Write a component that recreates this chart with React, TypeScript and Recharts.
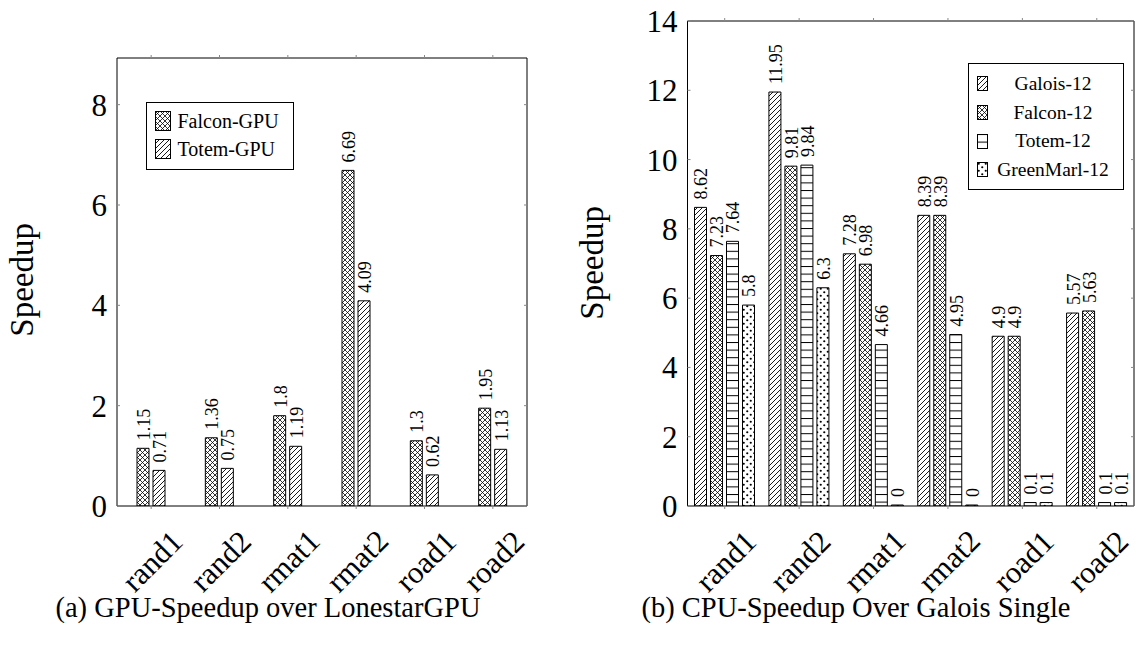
import React from 'react';
import { BarChart, Bar, XAxis, YAxis, LabelList } from 'recharts';

const categories = ['rand1', 'rand2', 'rmat1', 'rmat2', 'road1', 'road2'];

const gpuSeriesNames = ['Falcon-GPU', 'Totem-GPU'];
const falconGpu = [1.15, 1.36, 1.8, 6.69, 1.3, 1.95];
const totemGpu = [0.71, 0.75, 1.19, 4.09, 0.62, 1.13];

const cpuSeriesNames = ['Galois-12', 'Falcon-12', 'Totem-12', 'GreenMarl-12'];
const galois12 = [8.62, 11.95, 7.28, 8.39, 4.9, 5.57];
const falcon12 = [7.23, 9.81, 6.98, 8.39, 4.9, 5.63];
const totem12 = [7.64, 9.84, 4.66, 4.95, 0.1, 0.1];
const greenMarl12 = [5.8, 6.3, 0, 0, 0.1, 0.1];

const gpuTicks = [0, 2, 4, 6, 8];
const cpuTicks = [0, 2, 4, 6, 8, 10, 12, 14];

const yTitle = 'Speedup';
const captionA = '(a) GPU-Speedup over LonestarGPU';
const captionB = '(b) CPU-Speedup Over Galois Single';

const FONT = "'Liberation Serif', 'Times New Roman', serif";

const gpuData = categories.map((c, i) => ({ name: c, s0: falconGpu[i], s1: totemGpu[i] }));
const cpuData = categories.map((c, i) => ({
  name: c,
  s0: galois12[i],
  s1: falcon12[i],
  s2: totem12[i],
  s3: greenMarl12[i],
}));

const gpuPatterns = ['cross', 'ne'];
const cpuPatterns = ['ne', 'cross', 'h', 'dots'];

const Patterns = ({ p }: { p: string }) => (
  <defs>
    <pattern id={`${p}-ne`} patternUnits="userSpaceOnUse" width={5} height={5}>
      <rect width={5} height={5} fill="#fff" />
      <path d="M-1,1 L1,-1 M0,5 L5,0 M4,6 L6,4" stroke="#000" strokeWidth={0.9} />
    </pattern>
    <pattern id={`${p}-cross`} patternUnits="userSpaceOnUse" width={5} height={5}>
      <rect width={5} height={5} fill="#fff" />
      <path
        d="M-1,1 L1,-1 M0,5 L5,0 M4,6 L6,4 M-1,4 L1,6 M0,0 L5,5 M4,-1 L6,1"
        stroke="#000"
        strokeWidth={0.8}
      />
    </pattern>
    <pattern id={`${p}-h`} patternUnits="userSpaceOnUse" width={8} height={7.6}>
      <rect width={8} height={7.6} fill="#fff" />
      <line x1={0} y1={0.5} x2={8} y2={0.5} stroke="#000" strokeWidth={1} />
    </pattern>
    <pattern id={`${p}-dots`} patternUnits="userSpaceOnUse" width={7} height={7}>
      <rect width={7} height={7} fill="#fff" />
      <circle cx={1.75} cy={1.75} r={1.1} fill="#000" />
      <circle cx={5.25} cy={5.25} r={1.1} fill="#000" />
    </pattern>
  </defs>
);

const BarLabel = (props: any) => {
  const { x, y, width, height, value } = props;
  const top = Math.min(Number(y), Number(y) + Number(height || 0));
  const cx = Number(x) + Number(width) / 2 + 1;
  const ty = top - 8;
  return (
    <text
      x={cx}
      y={ty}
      transform={`rotate(-90 ${cx} ${ty})`}
      textAnchor="start"
      dominantBaseline="central"
      fontSize={18}
      fontFamily={FONT}
      fill="#000"
    >
      {value}
    </text>
  );
};

const XTick = (props: any) => {
  const { x, y, payload } = props;
  const tx = x + 1;
  const ty = y + 52;
  return (
    <text
      x={tx}
      y={ty}
      transform={`rotate(-45 ${tx} ${ty})`}
      textAnchor="middle"
      dominantBaseline="central"
      fontSize={31}
      fontFamily={FONT}
      fill="#000"
    >
      {payload.value}
    </text>
  );
};

const EmptyTick = () => <g />;

const yTickStyle = { fontSize: 31, fill: '#000', fontFamily: FONT };

const Legend = ({
  names,
  patterns,
  left,
  top,
  width,
  height,
  rowTop,
  rowStep,
  swW,
  swH,
  swX,
  textX,
  textCenter,
  fontSize,
}: any) => (
  <div
    style={{
      position: 'absolute',
      left,
      top,
      width,
      height,
      border: '1px solid #000',
      boxSizing: 'border-box',
      background: '#fff',
    }}
  >
    {names.map((n: string, i: number) => {
      const cy = rowTop + i * rowStep;
      return (
        <React.Fragment key={n}>
          <svg
            width={swW}
            height={swH}
            style={{ position: 'absolute', left: swX, top: cy - swH / 2 }}
          >
            <rect
              x={0.5}
              y={0.5}
              width={swW - 1}
              height={swH - 1}
              fill={`url(#lg-${patterns[i]})`}
              stroke="#000"
              strokeWidth={1}
            />
          </svg>
          <div
            style={{
              position: 'absolute',
              left: textCenter ? textX - 100 : textX,
              width: textCenter ? 200 : undefined,
              textAlign: textCenter ? 'center' : 'left',
              top: cy - fontSize * 0.6,
              lineHeight: `${fontSize * 1.2}px`,
              fontSize,
              fontFamily: FONT,
              whiteSpace: 'nowrap',
              color: '#000',
            }}
          >
            {n}
          </div>
        </React.Fragment>
      );
    })}
  </div>
);

const textAbs = (cx: number, cy: number, size: number, rotate = false): React.CSSProperties => ({
  position: 'absolute',
  left: cx - 300,
  top: cy - size * 0.6,
  width: 600,
  textAlign: 'center',
  fontSize: size,
  lineHeight: `${size * 1.2}px`,
  fontFamily: FONT,
  color: '#000',
  whiteSpace: 'nowrap',
  transform: rotate ? 'rotate(-90deg)' : undefined,
});

export default function App() {
  return (
    <div
      style={{
        position: 'absolute',
        left: 0,
        top: 0,
        width: 1135,
        height: 652,
        background: '#fff',
        overflow: 'hidden',
      }}
    >
      <svg width={0} height={0} style={{ position: 'absolute' }}>
        <Patterns p="lg" />
      </svg>

      <div style={{ position: 'absolute', left: 0, top: 0 }}>
        <BarChart
          width={560}
          height={652}
          data={gpuData}
          margin={{ top: 57, right: 32, bottom: 66, left: 57 }}
          barSize={12}
          barGap={4}
          style={{ overflow: 'visible' }}
        >
          <Patterns p="ga" />
          <XAxis
            dataKey="name"
            tick={<XTick />}
            tickSize={3}
            tickMargin={0}
            height={80}
            interval={0}
            axisLine={{ stroke: '#000' }}
            tickLine={{ stroke: '#888' }}
          />
          <XAxis
            xAxisId="top"
            orientation="top"
            dataKey="name"
            tick={<EmptyTick />}
            tickSize={3}
            height={1}
            interval={0}
            axisLine={{ stroke: '#000' }}
            tickLine={{ stroke: '#888' }}
          />
          <YAxis
            domain={[0, 8.93]}
            ticks={gpuTicks}
            width={60}
            tickSize={-3}
            tickMargin={13}
            tick={yTickStyle}
            axisLine={{ stroke: '#000' }}
            tickLine={{ stroke: '#888' }}
            allowDataOverflow
          />
          <YAxis
            yAxisId="right"
            orientation="right"
            domain={[0, 8.93]}
            ticks={gpuTicks}
            width={1}
            tickSize={-3}
            tick={<EmptyTick />}
            axisLine={{ stroke: '#000' }}
            tickLine={{ stroke: '#888' }}
            allowDataOverflow
          />
          {gpuSeriesNames.map((n, i) => (
            <Bar
              key={n}
              dataKey={`s${i}`}
              name={n}
              fill={`url(#ga-${gpuPatterns[i]})`}
              stroke="#000"
              strokeWidth={1}
              minPointSize={1}
              isAnimationActive={false}
            >
              <LabelList dataKey={`s${i}`} content={BarLabel} />
            </Bar>
          ))}
        </BarChart>
      </div>

      <div style={{ position: 'absolute', left: 560, top: 0 }}>
        <BarChart
          width={575}
          height={652}
          data={cpuData}
          margin={{ top: 20, right: 0, bottom: 66, left: 57.5 }}
          barSize={12}
          barGap={4}
          style={{ overflow: 'visible' }}
        >
          <Patterns p="cb" />
          <XAxis
            dataKey="name"
            tick={<XTick />}
            tickSize={3}
            tickMargin={0}
            height={80}
            interval={0}
            axisLine={{ stroke: '#000' }}
            tickLine={{ stroke: '#888' }}
          />
          <XAxis
            xAxisId="top"
            orientation="top"
            dataKey="name"
            tick={<EmptyTick />}
            tickSize={3}
            height={1}
            interval={0}
            axisLine={{ stroke: '#000' }}
            tickLine={{ stroke: '#888' }}
          />
          <YAxis
            domain={[0, 14]}
            ticks={cpuTicks}
            width={70}
            tickSize={-3}
            tickMargin={13}
            tick={yTickStyle}
            axisLine={{ stroke: '#000' }}
            tickLine={{ stroke: '#888' }}
            allowDataOverflow
          />
          <YAxis
            yAxisId="right"
            orientation="right"
            domain={[0, 14]}
            ticks={cpuTicks}
            width={1}
            tickSize={-3}
            tick={<EmptyTick />}
            axisLine={{ stroke: '#000' }}
            tickLine={{ stroke: '#888' }}
            allowDataOverflow
          />
          {cpuSeriesNames.map((n, i) => (
            <Bar
              key={n}
              dataKey={`s${i}`}
              name={n}
              fill={`url(#cb-${cpuPatterns[i]})`}
              stroke="#000"
              strokeWidth={1}
              minPointSize={1}
              isAnimationActive={false}
            >
              <LabelList dataKey={`s${i}`} content={BarLabel} />
            </Bar>
          ))}
        </BarChart>
      </div>

      <Legend
        names={gpuSeriesNames}
        patterns={gpuPatterns}
        left={146}
        top={101.7}
        width={148}
        height={68.5}
        rowTop={18.5}
        rowStep={28.3}
        swW={16}
        swH={20}
        swX={8}
        textX={30.5}
        textCenter={false}
        fontSize={20}
      />
      <Legend
        names={cpuSeriesNames}
        patterns={cpuPatterns}
        left={967.7}
        top={63.3}
        width={156.5}
        height={127}
        rowTop={19.5}
        rowStep={28.7}
        swW={11}
        swH={15}
        swX={8}
        textX={84.3}
        textCenter={true}
        fontSize={19.5}
      />

      <div style={textAbs(22.5, 280, 33, true)}>{yTitle}</div>
      <div style={textAbs(593, 263, 33, true)}>{yTitle}</div>
      <div style={textAbs(268, 608, 28.5)}>{captionA}</div>
      <div style={textAbs(856, 608, 28.5)}>{captionB}</div>
    </div>
  );
}
